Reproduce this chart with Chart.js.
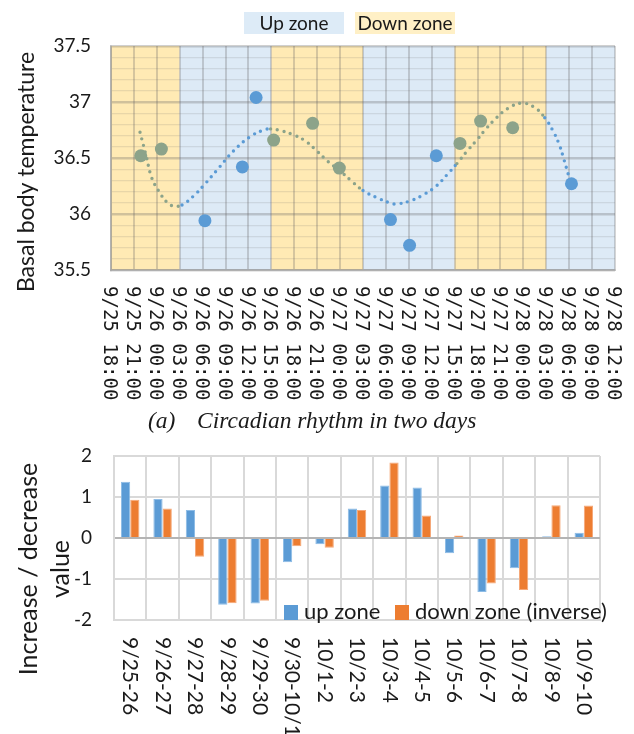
<!DOCTYPE html>
<html>
<head>
<meta charset="utf-8">
<script src="https://cdn.jsdelivr.net/npm/chart.js@4.4.1/dist/chart.umd.min.js"></script>
<style>
  body { margin: 0; background: #fff; width: 634px; height: 734px; position: relative; overflow: hidden; font-family: Lato, sans-serif; color: #1a1a1a; }
  #topBox { position: absolute; left: 0; top: 0; width: 634px; height: 410px; }
  #bottomBox { position: absolute; left: 0; top: 440px; width: 634px; height: 294px; }
  .zoneKey { position: absolute; top: 12px; height: 22px; line-height: 22px; font-size: 19px; text-align: center; z-index: 2; }
  #keyUp { left: 244px; width: 100px; background: #DDEBF7; }
  #keyDown { left: 355px; width: 100px; background: #FFF0C6; }
  #caption { position: absolute; top: 407px; left: 0; width: 634px; height: 30px; font: italic 23.5px "Liberation Serif", "Times New Roman", serif; }
  #caption span { position: absolute; top: 0; white-space: nowrap; }
  .key2 { position: absolute; top: 597px; height: 28px; line-height: 28px; font-size: 22px; white-space: nowrap; z-index: 2; }
  .sq { display: inline-block; width: 14px; height: 15px; margin-right: 6px; vertical-align: -1px; }
</style>
</head>
<body>
<div id="keyUp" class="zoneKey">Up zone</div>
<div id="keyDown" class="zoneKey">Down zone</div>
<div id="topBox"><canvas id="chartTop"></canvas></div>
<div id="caption"><span style="left:148px">(a)</span><span style="left:197px">Circadian rhythm in two days</span></div>
<div id="bottomBox"><canvas id="chartBottom"></canvas></div>
<script>
// ---- chart (a): basal body temperature, hours counted from 9/25 18:00
const timeLabels = ['9/25 18:00', '9/25 21:00', '9/26 00:00', '9/26 03:00', '9/26 06:00', '9/26 09:00',
  '9/26 12:00', '9/26 15:00', '9/26 18:00', '9/26 21:00', '9/27 00:00', '9/27 03:00', '9/27 06:00',
  '9/27 09:00', '9/27 12:00', '9/27 15:00', '9/27 18:00', '9/27 21:00', '9/28 00:00', '9/28 03:00',
  '9/28 06:00', '9/28 09:00', '9/28 12:00'];
const upHours = [12.3, 17.2, 19.0, 36.6, 39.1, 42.6, 60.3];
const upTemp = [35.94, 36.42, 37.04, 35.95, 35.72, 36.52, 36.27];
const downHours = [3.9, 6.6, 21.3, 26.4, 29.9, 45.7, 48.4, 52.6];
const downTemp = [36.52, 36.58, 36.66, 36.81, 36.41, 36.63, 36.83, 36.77];
const trendHours = [3.8, 4.6, 5.3, 6.2, 7.4, 8.3, 9.3, 10.8, 12.2, 14.1, 16.0, 18.2, 20.0, 20.9, 21.9,
  23.8, 25.5, 27.0, 28.4, 29.9, 31.4, 33.0, 34.7, 36.5, 37.4, 39.3, 41.1, 42.6, 44.0, 45.3, 46.6,
  47.9, 49.1, 50.5, 51.9, 53.8, 55.5, 56.8, 57.9, 58.7, 59.3, 59.9, 60.2];
const trendTemp = [36.73, 36.52, 36.33, 36.21, 36.10, 36.07, 36.08, 36.16, 36.26, 36.41, 36.56, 36.69,
  36.75, 36.76, 36.75, 36.71, 36.65, 36.56, 36.47, 36.39, 36.30, 36.21, 36.15, 36.10, 36.09, 36.12,
  36.18, 36.25, 36.35, 36.45, 36.56, 36.66, 36.76, 36.86, 36.94, 36.99, 36.95, 36.86, 36.74, 36.62,
  36.49, 36.35, 36.28];
const zoneFrom = [0, 9, 21, 33, 45, 57];
const zoneTo = [9, 21, 33, 45, 57, 66];
const zoneKind = ['down', 'up', 'down', 'up', 'down', 'up'];

// ---- chart (b): increase / decrease per day
const periods = ['9/25-26', '9/26-27', '9/27-28', '9/28-29', '9/29-30', '9/30-10/1', '10/1-2', '10/2-3',
  '10/3-4', '10/4-5', '10/5-6', '10/6-7', '10/7-8', '10/8-9', '10/9-10'];
const upZone = [1.37, 0.95, 0.68, -1.63, -1.60, -0.59, -0.15, 0.72, 1.28, 1.23, -0.37, -1.32, -0.74, 0.04, 0.13];
const downZoneInv = [0.93, 0.72, -0.46, -1.59, -1.53, -0.20, -0.24, 0.68, 1.84, 0.55, 0.06, -1.11, -1.27, 0.80, 0.79];
const seriesNames = ['up zone', 'down zone (inverse)'];

const BLUE = '#5B9BD5', GREEN = '#8CA38A', ORANGE = '#ED7D31';
const ZONE_UP = '#DDEAF6', ZONE_DOWN = '#FFEAB4';

Chart.defaults.font.family = 'Lato, sans-serif';
Chart.defaults.color = '#1a1a1a';

function inDownZone(h) {
  for (let i = 0; i < zoneFrom.length; i++) {
    if (h >= zoneFrom[i] && h < zoneTo[i]) return zoneKind[i] == 'down';
  }
  return false;
}

// labels turned 90 degrees clockwise, under the plot
function rotLabels(labels, valueAt, font, gap, shift) {
  return {
    id: 'rotLabels',
    afterDraw(chart) {
      const ctx = chart.ctx, xs = chart.scales.x;
      ctx.save();
      ctx.font = font;
      ctx.fillStyle = '#1a1a1a';
      ctx.textBaseline = 'middle';
      ctx.textAlign = 'left';
      labels.forEach((t, i) => {
        ctx.save();
        ctx.translate(xs.getPixelForValue(valueAt(i)) + shift, chart.chartArea.bottom + gap);
        ctx.rotate(Math.PI / 2);
        ctx.fillText(t, 0, 0);
        ctx.restore();
      });
      ctx.restore();
    }
  };
}

// vertical axis title (one or more lines)
function sideTitle(lines, xs, dy, font) {
  return {
    id: 'sideTitle',
    afterDraw(chart) {
      const ctx = chart.ctx, a = chart.chartArea;
      ctx.save();
      ctx.font = font;
      ctx.fillStyle = '#1a1a1a';
      ctx.textAlign = 'center';
      ctx.textBaseline = 'middle';
      lines.forEach((t, i) => {
        ctx.save();
        ctx.translate(xs[i], (a.top + a.bottom) / 2 + dy);
        ctx.rotate(-Math.PI / 2);
        ctx.fillText(t, 0, 0);
        ctx.restore();
      });
      ctx.restore();
    }
  };
}

const zoneBands = {
  id: 'zoneBands',
  beforeDraw(chart) {
    const ctx = chart.ctx, xs = chart.scales.x, a = chart.chartArea;
    ctx.save();
    zoneFrom.forEach((f, i) => {
      const x0 = xs.getPixelForValue(f), x1 = xs.getPixelForValue(zoneTo[i]);
      ctx.fillStyle = zoneKind[i] == 'up' ? ZONE_UP : ZONE_DOWN;
      ctx.fillRect(x0, a.top, x1 - x0, a.bottom - a.top);
    });
    ctx.restore();
  }
};

const isMajor = v => Math.abs(v * 2 - Math.round(v * 2)) < 1e-6;

// fixed axis width, and no extra room asked above / below for the tick labels
const fixWidth = w => s => { s.width = w; s.paddingTop = 0; s.paddingBottom = 0; };

let chartTop = new Chart(document.getElementById('chartTop'), {
  type: 'scatter',
  data: {
    datasets: [
      {
        label: 'up',
        data: upHours.map((h, i) => ({ x: h, y: upTemp[i] })),
        backgroundColor: BLUE,
        borderWidth: 0,
        pointRadius: 6.5
      },
      {
        label: 'down',
        data: downHours.map((h, i) => ({ x: h, y: downTemp[i] })),
        backgroundColor: GREEN,
        borderWidth: 0,
        pointRadius: 6.5
      },
      {
        label: 'trend',
        data: trendHours.map((h, i) => ({ x: h, y: trendTemp[i] })),
        showLine: true,
        pointRadius: 0,
        borderColor: BLUE,
        borderWidth: 3.4,
        borderDash: [0, 6.8],
        borderCapStyle: 'round',
        tension: 0.4,
        segment: {
          borderColor: c => inDownZone((c.p0.parsed.x + c.p1.parsed.x) / 2) ? GREEN : BLUE
        }
      }
    ]
  },
  options: {
    responsive: true,
    maintainAspectRatio: false,
    animation: false,
    layout: { padding: { top: 46, right: 19, left: 0, bottom: 0 } },
    plugins: { legend: { display: false }, tooltip: { enabled: false } },
    scales: {
      x: {
        type: 'linear',
        min: 0,
        max: 66,
        ticks: { stepSize: 3, display: false, autoSkip: false },
        grid: { color: 'rgba(100,100,100,0.27)', lineWidth: 2, drawTicks: false },
        border: { color: 'rgba(150,150,150,0.55)', width: 2 },
        afterFit: s => { s.height = 140; }
      },
      y: {
        min: 35.5,
        max: 37.5,
        ticks: {
          stepSize: 0.1,
          autoSkip: false,
          padding: 20,
          font: { size: 19 },
          callback: v => isMajor(v) ? String(Number(v.toFixed(1))) : ''
        },
        grid: {
          drawTicks: false,
          color: c => isMajor(c.tick.value) ? 'rgba(100,100,100,0.3)' : 'rgba(100,100,100,0.15)',
          lineWidth: c => isMajor(c.tick.value) ? 2.5 : 1.2
        },
        border: { color: 'rgba(150,150,150,0.55)', width: 2 },
        afterFit: fixWidth(111)
      }
    }
  },
  plugins: [
    zoneBands,
    rotLabels(timeLabels, i => i * 3, '19px "DejaVu Sans Mono", monospace', 16, -2),
    sideTitle(['Basal body temperature'], [27], 14, '23px Lato, sans-serif')
  ]
});

let chartBottom = new Chart(document.getElementById('chartBottom'), {
  type: 'bar',
  data: {
    labels: periods,
    datasets: [
      {
        label: seriesNames[0],
        data: upZone,
        backgroundColor: BLUE,
        borderColor: '#8DBCE6',
        borderWidth: 1
      },
      {
        label: seriesNames[1],
        data: downZoneInv,
        backgroundColor: ORANGE,
        borderColor: '#F5A878',
        borderWidth: 1
      }
    ]
  },
  options: {
    responsive: true,
    maintainAspectRatio: false,
    animation: false,
    layout: { padding: { top: 16, right: 34, left: 0, bottom: 0 } },
    plugins: { legend: { display: false }, tooltip: { enabled: false } },
    datasets: { bar: { categoryPercentage: 0.57, barPercentage: 1 } },
    scales: {
      x: {
        ticks: { display: false },
        grid: { color: '#D9D9D9', lineWidth: 2, drawTicks: false },
        border: { color: '#D9D9D9', width: 2 },
        afterFit: s => { s.height = 114; }
      },
      y: {
        min: -2,
        max: 2,
        ticks: { stepSize: 1, padding: 22, font: { size: 19 } },
        grid: {
          drawTicks: false,
          color: c => c.tick.value == 0 ? '#B4B4B4' : '#D9D9D9',
          lineWidth: 2
        },
        border: { color: '#D9D9D9', width: 2 },
        afterFit: fixWidth(114)
      }
    }
  },
  plugins: [
    rotLabels(periods, i => i, '21px Lato, sans-serif', 17, 0),
    sideTitle(['Increase / decrease', 'value'], [29, 61], 31, '25px Lato, sans-serif')
  ]
});

// legend of chart (b), inside the plot
const keyColors = [BLUE, ORANGE];
const keyLeft = [284, 395];
seriesNames.forEach((n, i) => {
  const d = document.createElement('div');
  d.className = 'key2';
  d.style.left = keyLeft[i] + 'px';
  d.innerHTML = '<span class="sq" style="background:' + keyColors[i] + '"></span>' + n;
  document.body.appendChild(d);
});
</script>
</body>
</html>
